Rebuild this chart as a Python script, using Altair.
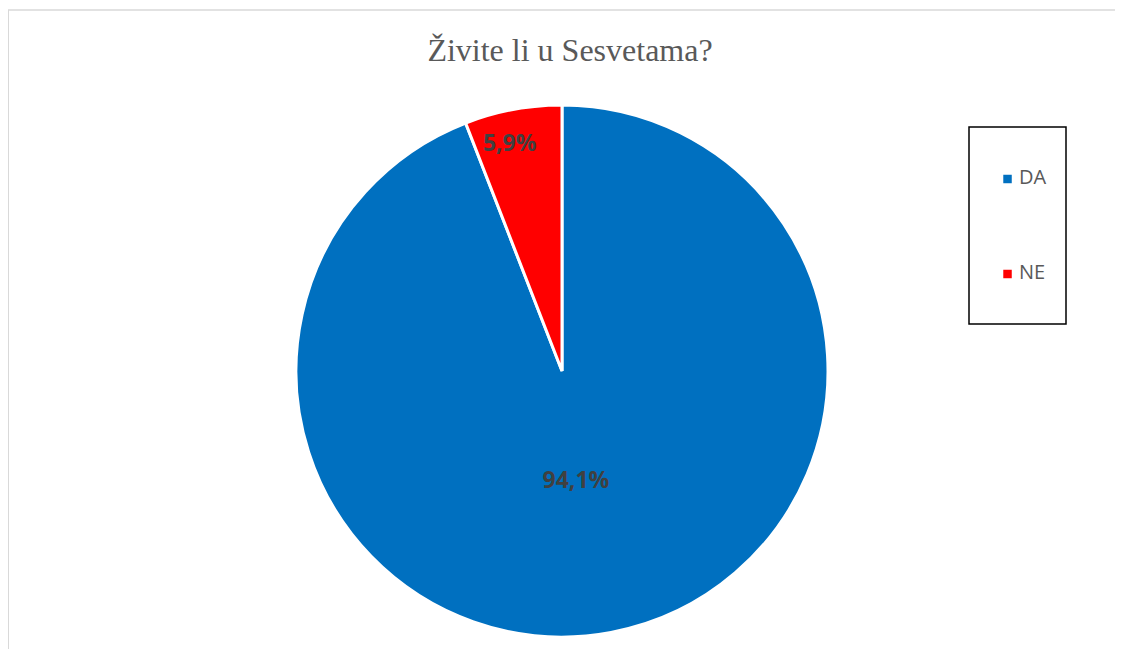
import altair as alt
import pandas as pd

title_text = "Živite li u Sesvetama?"
categories = ["DA", "NE"]
values = [94.1, 5.9]
labels = ["94,1%", "5,9%"]
colors = ["#0070C0", "#FF0000"]

df = pd.DataFrame({"odgovor": categories, "udio": values, "oznaka": labels, "red": [0, 1]})

W, H = 1107, 641
CX, CY, R = 554, 363, 266

base = alt.Chart(df).encode(
    theta=alt.Theta("udio:Q", stack=True),
    order=alt.Order("red:O"),
)

pie = base.mark_arc(outerRadius=R, stroke="white", strokeWidth=3).encode(
    x=alt.value(CX),
    y=alt.value(CY),
    color=alt.Color(
        "odgovor:N",
        scale=alt.Scale(domain=categories, range=colors),
        sort=categories,
        legend=alt.Legend(
            title=None,
            orient="none",
            legendX=961,
            legendY=119,
            strokeColor="black",
            padding=19,
            rowPadding=31,
            symbolType="M-1.35,4.42H0.65V6.42H-1.35Z",
            symbolSize=72,
            symbolStrokeWidth=0,
            symbolOffset=11,
            labelFont="Open Sans",
            labelFontSize=20,
            labelColor="#595959",
            labelOffset=0,
            labelExpr="['', datum.label, '']",
        ),
    ),
)

txt_style = dict(font="Open Sans", fontSize=23, fontWeight="bold", color="#404040", baseline="middle", align="center")

txt_da = base.mark_text(radius=108, dx=-6, dy=4, **txt_style).encode(
    x=alt.value(CX),
    y=alt.value(CY),
    text=alt.condition(alt.datum.odgovor == categories[0], "oznaka:N", alt.value("")),
)
txt_ne = base.mark_text(radius=235, dx=-9, dy=4, **txt_style).encode(
    x=alt.value(CX),
    y=alt.value(CY),
    text=alt.condition(alt.datum.odgovor == categories[1], "oznaka:N", alt.value("")),
)

tdf = pd.DataFrame({"naslov": [title_text]})
title = alt.Chart(tdf).mark_text(
    font="Liberation Serif", fontSize=32, color="#595959", baseline="alphabetic", align="center"
).encode(x=alt.value(562), y=alt.value(53), text="naslov:N")

frame_top = alt.Chart(tdf).mark_rule(color="#d9d9d9", strokeWidth=1.5).encode(
    x=alt.value(0), x2=alt.value(W), y=alt.value(2)
)
frame_left = alt.Chart(tdf).mark_rule(color="#d9d9d9", strokeWidth=2).encode(
    x=alt.value(0), y=alt.value(2), y2=alt.value(H)
)

chart = alt.layer(frame_top, frame_left, title, pie, txt_da, txt_ne).properties(
    width=W, height=H, autosize=alt.AutoSizeParams(type="none"), padding=0
).configure_view(stroke=None).configure_legend(strokeWidth=1.5)

chart.save("out.html", embed_options={"renderer": "svg", "actions": False})
